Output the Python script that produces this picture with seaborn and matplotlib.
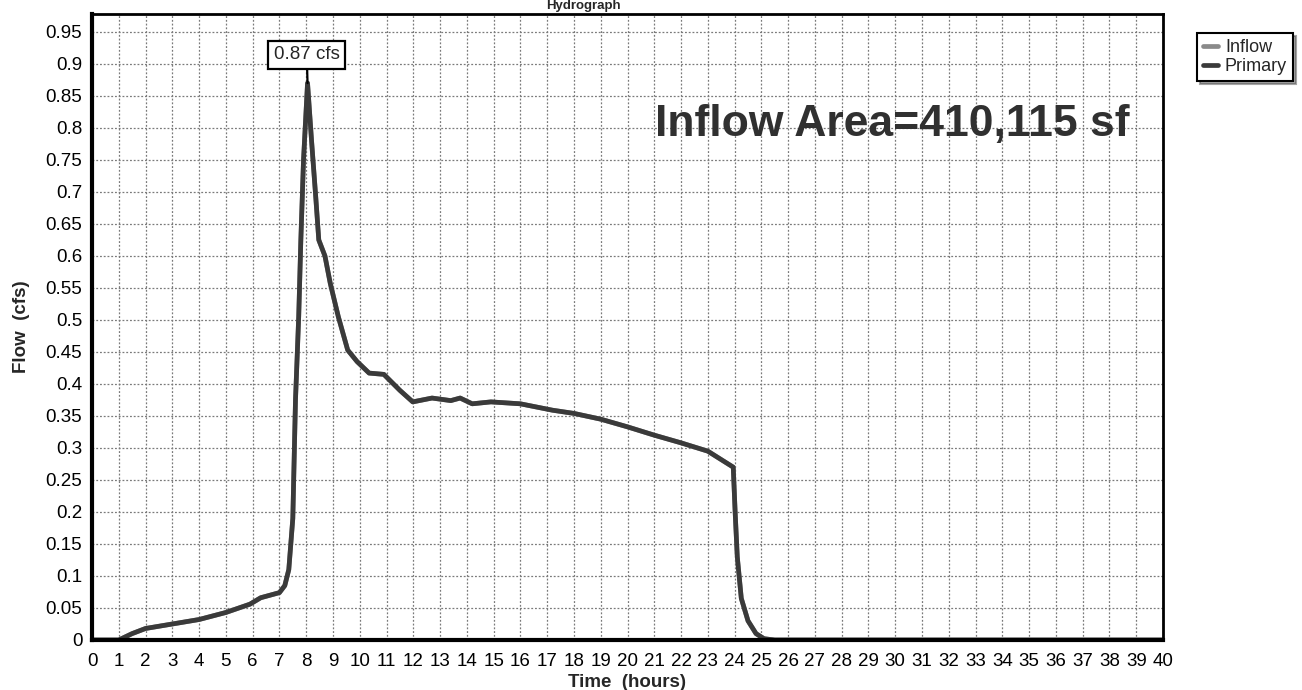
import numpy as np
import pandas as pd
import matplotlib
matplotlib.use("Agg")
import matplotlib.pyplot as plt
from matplotlib.ticker import MultipleLocator, FuncFormatter
import seaborn as sns

# ---- data ----
time_hours = [0, 1.0, 1.5, 2.0, 3.0, 4.0, 5.0, 5.9, 6.3, 7.0, 7.2, 7.35, 7.5, 7.6,
              7.72, 7.8, 7.9, 8.05, 8.2, 8.36, 8.47, 8.7, 8.9, 9.2, 9.55, 9.9,
              10.35, 10.9, 11.5, 11.98, 12.7, 13.4, 13.75, 14.2, 14.9, 16.0, 17.2,
              18, 19, 20, 21, 22, 23, 23.95, 24.02, 24.1, 24.25, 24.5, 24.8, 25.1,
              25.5, 40]
inflow_cfs = [0, 0, 0.01, 0.018, 0.025, 0.032, 0.043, 0.056, 0.066, 0.074, 0.085,
              0.11, 0.19, 0.375, 0.505, 0.625, 0.75, 0.87, 0.78, 0.69, 0.625, 0.6,
              0.557, 0.505, 0.453, 0.435, 0.417, 0.415, 0.39, 0.372, 0.378, 0.374,
              0.378, 0.369, 0.372, 0.369, 0.359, 0.354, 0.345, 0.333, 0.32, 0.308,
              0.295, 0.27, 0.2, 0.13, 0.065, 0.03, 0.01, 0.002, 0, 0]
primary_cfs = list(inflow_cfs)
series_names = ["Inflow", "Primary"]
series_colors = ["#8a8a8a", "#3a3a3a"]
peak_label = "0.87 cfs"
peak_time, peak_flow = 8.05, 0.87
area_label = "Inflow Area=410,115 sf"
title = "Hydrograph"

df = pd.concat([
    pd.DataFrame({"Time": time_hours, "Flow": inflow_cfs, "Series": series_names[0]}),
    pd.DataFrame({"Time": time_hours, "Flow": primary_cfs, "Series": series_names[1]}),
])

sns.set_style("white")
plt.rcParams["font.family"] = ["Liberation Sans", "DejaVu Sans"]

fig = plt.figure(figsize=(13.02, 6.9), dpi=100)
ax = fig.add_axes([92 / 1302, 1 - 640 / 690, (1163 - 92) / 1302, (640 - 14) / 690])

sns.lineplot(data=df, x="Time", y="Flow", hue="Series", palette=series_colors,
             linewidth=3.4, ax=ax, legend=True, sort=False)

ax.set_xlim(0, 40)
ax.set_ylim(0, 0.978)
ax.xaxis.set_major_locator(MultipleLocator(1))
ax.xaxis.set_minor_locator(MultipleLocator(0.2))
ax.yaxis.set_major_locator(MultipleLocator(0.05))
ax.yaxis.set_minor_locator(MultipleLocator(0.01))

def yfmt(v, pos):
    return f"{v:.2f}".rstrip("0").rstrip(".")
ax.yaxis.set_major_formatter(FuncFormatter(yfmt))
ax.xaxis.set_major_formatter(FuncFormatter(lambda v, p: f"{int(round(v))}"))

ax.grid(True, which="major", color="#7a7a7a", linestyle=(0, (1.5, 1.5)), linewidth=0.9)
ax.tick_params(axis="both", which="major", direction="out", length=5, width=1,
               labelsize=13.5, colors="black", pad=2)
ax.tick_params(axis="both", which="minor", direction="inout", length=5, width=0.8,
               colors="#444444")
ax.tick_params(axis="x", which="major", pad=4)

for side in ["left", "bottom"]:
    ax.spines[side].set_linewidth(3)
for side in ["top", "right"]:
    ax.spines[side].set_linewidth(2)
for s in ax.spines.values():
    s.set_color("black")
    s.set_visible(True)

ax.set_xlabel("Time  (hours)", fontsize=13.5, fontweight="bold", labelpad=3)
ax.set_ylabel("Flow  (cfs)", fontsize=13.5, fontweight="bold", labelpad=11)

ax.annotate(peak_label, xy=(peak_time, peak_flow), xytext=(peak_time - 0.03, 0.914),
            ha="center", va="center", fontsize=13.5,
            bbox=dict(boxstyle="square,pad=0.3", fc="white", ec="black", lw=1.6),
            arrowprops=dict(arrowstyle="-", color="black", lw=1.6, shrinkA=0, shrinkB=0))

ax.text(29.9, 0.805, area_label, ha="center", va="center", fontsize=32,
        fontweight="bold", color="#303030")

fig.text(583 / 1302, 1.0, title, ha="center", va="top",
         fontsize=9.5, fontweight="bold")

handles, labels = ax.get_legend_handles_labels()
leg = ax.legend(handles, labels, loc="upper left",
                bbox_to_anchor=(1197 / 1302, 1 - 33 / 690),
                bbox_transform=fig.transFigure, borderaxespad=0, frameon=True,
                fancybox=False, shadow=True, edgecolor="black", fontsize=13,
                handlelength=0.8, handletextpad=0.4, borderpad=0.35,
                labelspacing=0.1)
leg.get_frame().set_linewidth(1.5)

fig.savefig("out.png", dpi=100, facecolor="white")
